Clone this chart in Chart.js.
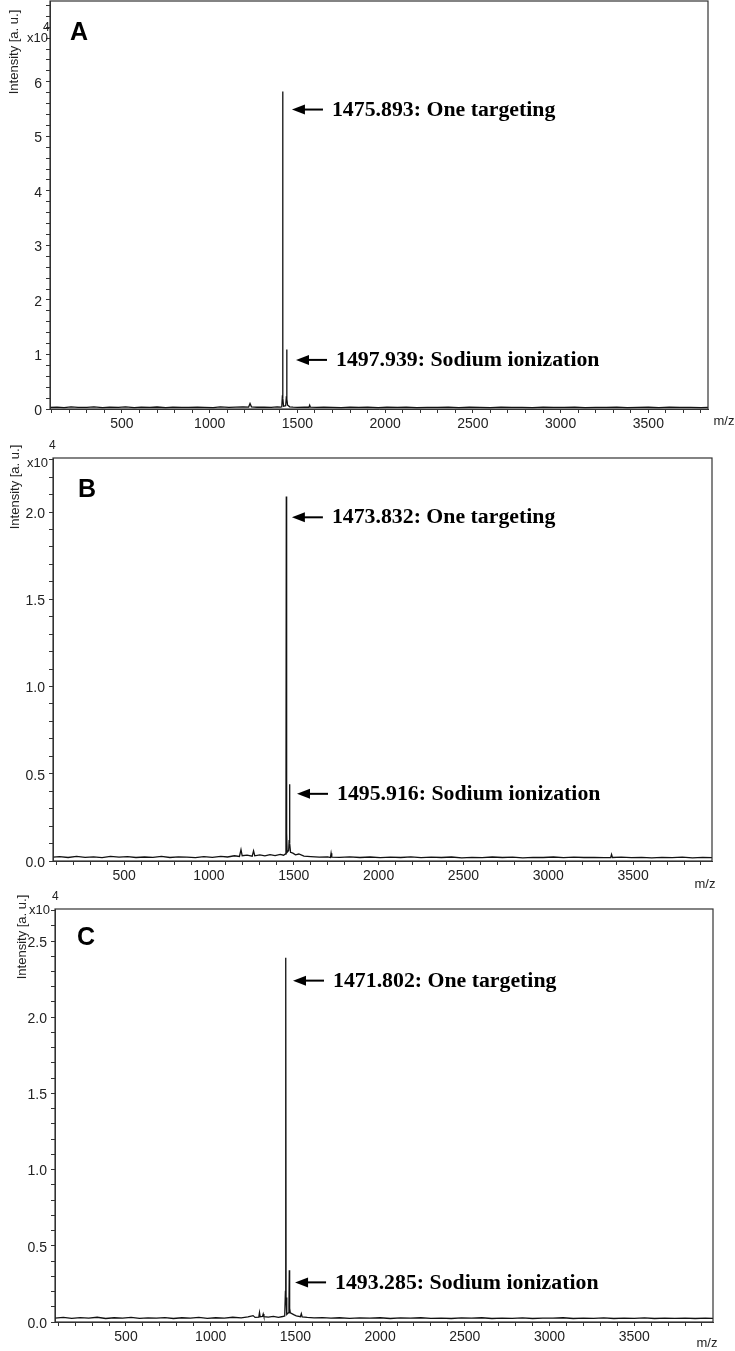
<!DOCTYPE html>
<html>
<head>
<meta charset="utf-8">
<script src="https://cdn.jsdelivr.net/npm/chart.js@4.4.1/dist/chart.umd.min.js"></script>
<style>
  html, body { margin: 0; padding: 0; background: #fff; }
  #wrap { position: relative; width: 735px; height: 1351px; }
  canvas { position: absolute; left: 0; }
</style>
</head>
<body>
<div id="wrap">
  <canvas id="specA" width="735" height="440" style="top:0px"></canvas>
  <canvas id="specB" width="735" height="450" style="top:440px"></canvas>
  <canvas id="specC" width="735" height="461" style="top:890px"></canvas>
</div>
<script>
// ---- spectrum A (intensity in x10^4 a.u.) ----
const mzA = [
  90, 130, 170, 210, 250, 300, 340, 390, 430, 480,
  520, 570, 610, 660, 700, 750, 790, 840, 880, 930,
  970, 1020, 1060, 1110, 1150, 1190, 1222, 1230, 1238, 1270,
  1310, 1350, 1385, 1405, 1411, 1414.5, 1416, 1417.5, 1421, 1433,
  1436.5, 1439, 1440.5, 1444, 1449, 1456, 1475, 1500, 1540, 1566,
  1570, 1574, 1610, 1650, 1700, 1750, 1800, 1850, 1900, 1960,
  2010, 2070, 2120, 2180, 2240, 2300, 2360, 2420, 2480, 2540,
  2600, 2660, 2720, 2780, 2840, 2900, 2960, 3020, 3080, 3140,
  3200, 3260, 3320, 3380, 3440, 3500, 3560, 3620, 3680, 3740,
  3800, 3840
];
const intA = [
  0.030, 0.035, 0.025, 0.040, 0.030, 0.028, 0.038, 0.026, 0.034, 0.030,
  0.040, 0.027, 0.033, 0.029, 0.037, 0.026, 0.035, 0.030, 0.028, 0.036,
  0.031, 0.027, 0.038, 0.030, 0.034, 0.040, 0.035, 0.100, 0.040, 0.032,
  0.036, 0.030, 0.038, 0.035, 0.040, 0.250, 5.820, 0.200, 0.050, 0.060,
  0.200, 1.090, 0.180, 0.070, 0.060, 0.040, 0.033, 0.030, 0.035, 0.032,
  0.070, 0.033, 0.028, 0.035, 0.030, 0.026, 0.034, 0.029, 0.036, 0.027,
  0.032, 0.030, 0.035, 0.026, 0.031, 0.028, 0.034, 0.027, 0.032, 0.030,
  0.025, 0.033, 0.028, 0.031, 0.026, 0.034, 0.029, 0.030, 0.036, 0.027,
  0.031, 0.028, 0.033, 0.026, 0.030, 0.032, 0.027, 0.034, 0.029, 0.031,
  0.026, 0.030
];
const noteMzA = [1469, 1492];
const noteIntA = [5.49, 0.90];
const noteTextA = ['1475.893: One targeting', '1497.939: Sodium ionization'];

// ---- spectrum B ----
const mzB = [
  81, 120, 170, 220, 270, 320, 370, 420, 470, 520,
  570, 620, 670, 720, 770, 820, 870, 920, 970, 1020,
  1070, 1110, 1150, 1180, 1189, 1196, 1225, 1255, 1263, 1270,
  1300, 1330, 1360, 1390, 1420, 1440, 1451, 1454, 1456, 1458,
  1461, 1470, 1473, 1475, 1477, 1481, 1495, 1510, 1530, 1560,
  1600, 1650, 1700, 1716, 1720, 1724, 1770, 1830, 1890, 1950,
  2010, 2070, 2130, 2190, 2250, 2310, 2370, 2430, 2490, 2550,
  2610, 2670, 2730, 2790, 2850, 2910, 2970, 3030, 3090, 3150,
  3210, 3270, 3330, 3368, 3373, 3378, 3430, 3490, 3550, 3610,
  3670, 3730, 3790, 3850, 3910, 3965
];
const intB = [
  0.022, 0.025, 0.020, 0.027, 0.021, 0.024, 0.019, 0.026, 0.022, 0.025,
  0.020, 0.023, 0.021, 0.026, 0.020, 0.024, 0.022, 0.019, 0.025, 0.021,
  0.027, 0.023, 0.030, 0.026, 0.065, 0.030, 0.034, 0.028, 0.058, 0.030,
  0.035, 0.029, 0.036, 0.031, 0.038, 0.033, 0.040, 0.200, 2.090, 0.160,
  0.050, 0.060, 0.120, 0.440, 0.100, 0.050, 0.045, 0.035, 0.040, 0.028,
  0.025, 0.022, 0.024, 0.020, 0.045, 0.022, 0.021, 0.024, 0.020, 0.023,
  0.019, 0.022, 0.020, 0.024, 0.019, 0.022, 0.020, 0.023, 0.018, 0.021,
  0.019, 0.023, 0.020, 0.022, 0.018, 0.021, 0.020, 0.023, 0.019, 0.022,
  0.020, 0.021, 0.019, 0.020, 0.038, 0.020, 0.022, 0.019, 0.021, 0.018,
  0.021, 0.019, 0.022, 0.018, 0.021, 0.019
];
const noteMzB = [1489, 1519];
const noteIntB = [1.97, 0.385];
const noteTextB = ['1473.832: One targeting', '1495.916: Sodium ionization'];

// ---- spectrum C ----
const mzC = [
  81, 130, 180, 230, 280, 330, 380, 430, 480, 530,
  580, 630, 680, 730, 780, 830, 880, 930, 980, 1030,
  1080, 1130, 1180, 1220, 1250, 1262, 1284, 1288, 1292, 1306,
  1310, 1314, 1340, 1370, 1400, 1425, 1437, 1441, 1443, 1445,
  1449, 1458, 1462, 1464, 1466, 1470, 1490, 1505, 1530, 1535,
  1540, 1570, 1610, 1660, 1710, 1760, 1820, 1880, 1940, 2000,
  2060, 2120, 2180, 2240, 2300, 2360, 2420, 2480, 2540, 2600,
  2660, 2720, 2780, 2840, 2900, 2960, 3020, 3080, 3140, 3200,
  3260, 3320, 3380, 3440, 3500, 3560, 3620, 3680, 3740, 3800,
  3860, 3920, 3965
];
const intC = [
  0.026, 0.030, 0.024, 0.029, 0.025, 0.031, 0.023, 0.028, 0.026, 0.030,
  0.024, 0.027, 0.025, 0.029, 0.023, 0.028, 0.025, 0.030, 0.024, 0.028,
  0.026, 0.031, 0.027, 0.033, 0.042, 0.030, 0.032, 0.062, 0.034, 0.036,
  0.052, 0.035, 0.032, 0.037, 0.031, 0.036, 0.040, 0.200, 2.390, 0.160,
  0.050, 0.060, 0.100, 0.340, 0.090, 0.060, 0.048, 0.040, 0.035, 0.055,
  0.034, 0.030, 0.027, 0.029, 0.025, 0.028, 0.024, 0.027, 0.025, 0.028,
  0.023, 0.027, 0.025, 0.028, 0.024, 0.026, 0.023, 0.027, 0.025, 0.028,
  0.023, 0.026, 0.024, 0.027, 0.023, 0.026, 0.025, 0.028, 0.023, 0.026,
  0.024, 0.027, 0.023, 0.026, 0.024, 0.027, 0.023, 0.025, 0.024, 0.026,
  0.023, 0.025, 0.024
];
const noteMzC = [1486, 1498];
const noteIntC = [2.24, 0.26];
const noteTextC = ['1471.802: One targeting', '1493.285: Sodium ionization'];

const SANS = '"Liberation Sans", Arial, sans-serif';
const SERIF = '"Liberation Serif", "Times New Roman", serif';

// frame, panel letter, exponent, axis titles and arrow notes
const decor = {
  id: 'decor',
  afterDraw(chart, args, o) {
    const { ctx, chartArea: a, scales: { x, y } } = chart;
    ctx.save();
    ctx.strokeStyle = '#333';
    ctx.lineWidth = 1.2;
    ctx.strokeRect(a.left, a.top, a.right - a.left, a.bottom - a.top);

    ctx.fillStyle = '#000';
    ctx.font = 'bold 25px ' + SANS;
    ctx.textAlign = 'left';
    ctx.textBaseline = 'alphabetic';
    ctx.fillText(o.letter, a.left + o.letterPos[0], a.top + o.letterPos[1]);

    ctx.fillStyle = '#222';
    ctx.font = '13px ' + SANS;
    ctx.textAlign = 'right';
    ctx.textBaseline = 'middle';
    ctx.fillText('x10', a.left + o.expPos[0], a.top + o.expPos[1]);
    ctx.font = '12px ' + SANS;
    ctx.textAlign = 'left';
    ctx.fillText('4', a.left + o.supPos[0], a.top + o.supPos[1]);

    ctx.font = '13px ' + SANS;
    ctx.save();
    ctx.translate(a.left + o.titlePos[0], a.top + o.titlePos[1]);
    ctx.rotate(-Math.PI / 2);
    ctx.textAlign = 'center';
    ctx.fillText('Intensity [a. u.]', 0, 0);
    ctx.restore();

    ctx.textAlign = 'center';
    ctx.fillText('m/z', a.right + o.unitPos[0], a.bottom + o.unitPos[1]);

    // arrows pointing at the peaks
    ctx.fillStyle = '#000';
    ctx.strokeStyle = '#000';
    ctx.font = 'bold 20px ' + SERIF;
    o.noteMz.forEach((m, i) => {
      const tx = x.getPixelForValue(m);
      const ty = y.getPixelForValue(o.noteInt[i]);
      ctx.lineWidth = 2;
      ctx.beginPath();
      ctx.moveTo(tx + 10, ty);
      ctx.lineTo(tx + 31, ty);
      ctx.stroke();
      ctx.beginPath();
      ctx.moveTo(tx, ty);
      ctx.lineTo(tx + 13, ty - 5);
      ctx.lineTo(tx + 13, ty + 5);
      ctx.closePath();
      ctx.fill();
      // the source text is set slightly wide
      ctx.save();
      ctx.translate(tx + 40, ty + 1);
      ctx.scale(1.09, 1);
      ctx.textAlign = 'left';
      ctx.textBaseline = 'middle';
      ctx.fillText(o.noteText[i], 0, 0);
      ctx.restore();
    });
    ctx.restore();
  }
};

function makeSpectrum(id, mz, inten, p) {
  const canvas = document.getElementById(id);
  const area = p.area;
  return new Chart(canvas, {
    type: 'line',
    data: {
      datasets: [{
        data: mz.map((m, i) => ({ x: m, y: inten[i] })),
        borderColor: '#111',
        borderWidth: 1.3,
        pointRadius: 0,
        tension: 0
      }]
    },
    options: {
      responsive: false,
      animation: false,
      events: [],
      layout: { padding: { left: 0, top: area.top, right: canvas.width - area.right, bottom: 0 } },
      plugins: {
        legend: { display: false },
        tooltip: { enabled: false },
        decor: p.decor
      },
      scales: {
        x: {
          type: 'linear',
          min: p.xRange[0],
          max: p.xRange[1],
          afterFit(s) { s.height = canvas.height - area.bottom; s.paddingLeft = 0; s.paddingRight = 0; },
          ticks: {
            stepSize: 100,
            includeBounds: false,
            autoSkip: false,
            maxRotation: 0,
            padding: 3,
            color: '#222',
            font: { family: SANS, size: 14 },
            callback: v => (Math.round(v) % 500 === 0 ? String(Math.round(v)) : '')
          },
          grid: { drawOnChartArea: false, tickLength: 4, color: '#333' },
          border: { color: '#333' }
        },
        y: {
          min: 0,
          max: p.yMax,
          afterFit(s) { s.width = area.left; s.paddingTop = 0; s.paddingBottom = 0; },
          ticks: {
            stepSize: p.yStep,
            includeBounds: false,
            autoSkip: false,
            padding: 4,
            labelOffset: 2,
            color: '#222',
            font: { family: SANS, size: 14 },
            callback: v => {
              const k = v / p.yLabelEvery;
              if (v > p.yLabelMax + 1e-6) return '';
              if (Math.abs(k - Math.round(k)) > 1e-6) return '';
              return p.yDigits ? v.toFixed(p.yDigits) : String(Math.round(v));
            }
          },
          grid: { drawOnChartArea: false, tickLength: 4, color: '#333' },
          border: { color: '#333' }
        }
      }
    },
    plugins: [decor]
  });
}

makeSpectrum('specA', mzA, intA, {
  area: { left: 50, top: 1, right: 708, bottom: 409 },
  xRange: [90, 3840], yMax: 7.48, yStep: 0.2, yLabelEvery: 1, yLabelMax: 6, yDigits: 0,
  decor: {
    letter: 'A', letterPos: [20, 39], expPos: [-2, 37], supPos: [-7, 27],
    titlePos: [-36, 51], unitPos: [16, 12],
    noteMz: noteMzA, noteInt: noteIntA, noteText: noteTextA
  }
});

makeSpectrum('specB', mzB, intB, {
  area: { left: 53, top: 18, right: 712, bottom: 421 },
  xRange: [81, 3965], yMax: 2.31, yStep: 0.1, yLabelEvery: 0.5, yLabelMax: 2.0, yDigits: 1,
  decor: {
    letter: 'B', letterPos: [25, 39], expPos: [-5, 5], supPos: [-4, -12],
    titlePos: [-38, 29], unitPos: [-7, 23],
    noteMz: noteMzB, noteInt: noteIntB, noteText: noteTextB
  }
});

makeSpectrum('specC', mzC, intC, {
  area: { left: 55, top: 19, right: 713, bottom: 432 },
  xRange: [81, 3965], yMax: 2.71, yStep: 0.1, yLabelEvery: 0.5, yLabelMax: 2.5, yDigits: 1,
  decor: {
    letter: 'C', letterPos: [22, 36], expPos: [-5, 1], supPos: [-3, -12],
    titlePos: [-33, 28], unitPos: [-6, 21],
    noteMz: noteMzC, noteInt: noteIntC, noteText: noteTextC
  }
});
</script>
</body>
</html>
